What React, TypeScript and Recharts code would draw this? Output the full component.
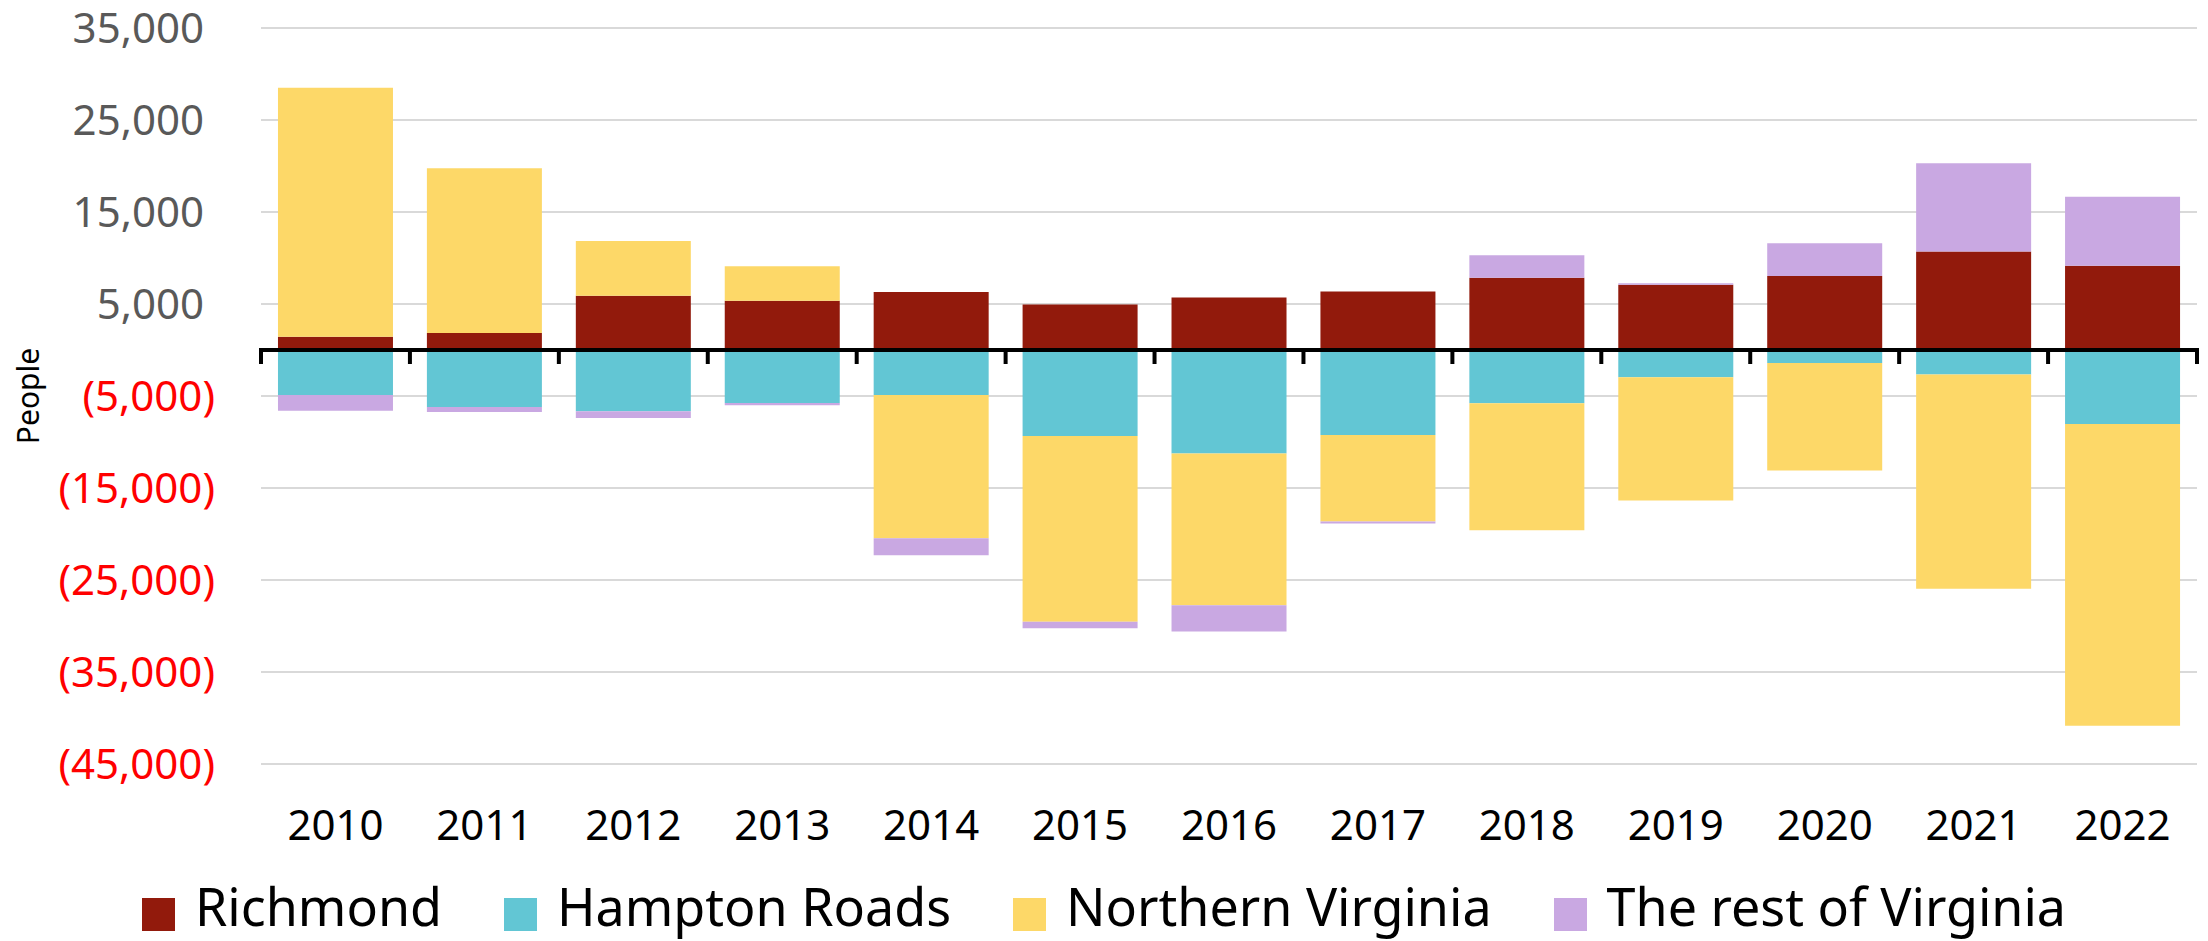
import React from 'react';
import {
  BarChart,
  Bar,
  XAxis,
  YAxis,
  CartesianGrid,
  ReferenceLine,
  Legend,
  Label,
} from 'recharts';

const years = ['2010', '2011', '2012', '2013', '2014', '2015', '2016', '2017', '2018', '2019', '2020', '2021', '2022'];

const richmond = [1450, 1850, 5900, 5350, 6300, 4950, 5700, 6350, 7850, 7100, 8050, 10700, 9150];
const hamptonRoads = [-4900, -6200, -6650, -5750, -4900, -9350, -11250, -9250, -5800, -2950, -1400, -2650, -8050];
const northernVirginia = [27050, 17900, 5950, 3750, -15550, -20200, -16500, -9400, -13800, -13400, -11700, -23300, -32800];
const restOfVirginia = [-1700, -550, -750, -250, -1850, -700, -2850, -200, 2450, 150, 3550, 9600, 7500];

const yTicks = [35000, 25000, 15000, 5000, -5000, -15000, -25000, -35000, -45000];

const series = [
  { key: 'richmond', name: 'Richmond', color: '#921A0C' },
  { key: 'hamptonRoads', name: 'Hampton Roads', color: '#62C6D4' },
  { key: 'northernVirginia', name: 'Northern Virginia', color: '#FDD868' },
  { key: 'restOfVirginia', name: 'The rest of Virginia', color: '#C9A8E2' },
];

const data = years.map((year, i) => ({
  year,
  richmond: richmond[i],
  hamptonRoads: hamptonRoads[i],
  northernVirginia: northernVirginia[i],
  restOfVirginia: restOfVirginia[i],
}));

const FONT = '"Noto Sans", "Open Sans", sans-serif';

// accounting style: negatives in parentheses
const formatPeople = (v: number) => {
  const s = Math.abs(v).toLocaleString('en-US');
  return v < 0 ? `(${s})` : s;
};

function YTick({ x, y, payload }: any) {
  const v = payload.value;
  const neg = v < 0;
  return (
    <text
      x={neg ? x - 46 : x - 57}
      y={y}
      dy="0.35em"
      textAnchor="end"
      fontSize={42}
      fontFamily={FONT}
      fill={neg ? '#FF0000' : '#595959'}
    >
      {formatPeople(v)}
    </text>
  );
}

function XTick({ x, y, payload }: any) {
  return (
    <text x={x} y={y + 76} textAnchor="middle" fontSize={42} fontFamily={FONT} fill="#000">
      {payload.value}
    </text>
  );
}

// zero line with tick marks at category boundaries
function ZeroAxis(props: any) {
  const { x1, x2, y1 } = props;
  const step = (x2 - x1) / years.length;
  return (
    <g>
      <line x1={x1 - 2} x2={x2 + 2} y1={y1} y2={y1} stroke="#000" strokeWidth={4} />
      {Array.from({ length: years.length + 1 }, (_, i) => (
        <line
          key={i}
          x1={x1 + i * step}
          x2={x1 + i * step}
          y1={y1}
          y2={y1 + 14}
          stroke="#000"
          strokeWidth={4}
        />
      ))}
    </g>
  );
}

function PeopleLabel(props: any) {
  const vb = props.viewBox || { x: 0, y: 28, width: 261, height: 736 };
  const cx = vb.x + 39;
  const cy = vb.y + vb.height / 2;
  return (
    <text
      x={cx}
      y={cy}
      transform={`rotate(-90, ${cx}, ${cy})`}
      textAnchor="middle"
      fontSize={30}
      fontFamily={FONT}
      fill="#000"
    >
      People
    </text>
  );
}

// keep the series order (recharts sorts legend items by name otherwise)
function LegendContent() {
  return (
    <div style={{ display: 'flex', justifyContent: 'center', fontFamily: FONT }}>
      {series.map((s, i) => (
        <div
          key={s.key}
          style={{ display: 'flex', alignItems: 'flex-start', marginLeft: i === 0 ? 0 : 62 }}
        >
          <span
            style={{ display: 'block', width: 33, height: 33, background: s.color, marginTop: 18, marginRight: 20 }}
          />
          <span style={{ fontSize: 52, lineHeight: '52px', color: '#000', whiteSpace: 'nowrap' }}>{s.name}</span>
        </div>
      ))}
    </div>
  );
}

export default function App() {
  return (
    <div style={{ width: 2208, height: 941, background: '#fff', fontFamily: FONT }}>
      <style>{'body{margin:0}'}</style>
      <BarChart
        width={2208}
        height={941}
        data={data}
        stackOffset="sign"
        barCategoryGap="11.4%"
        margin={{ top: 28, right: 11, left: 0, bottom: 77 }}
      >
        <CartesianGrid vertical={false} stroke="#D9D9D9" strokeWidth={2} />
        <XAxis
          dataKey="year"
          height={100}
          axisLine={false}
          tickLine={false}
          tickSize={0}
          tickMargin={0}
          interval={0}
          tick={<XTick />}
        />
        <YAxis
          type="number"
          width={261}
          domain={[-45000, 35000]}
          ticks={yTicks}
          interval={0}
          axisLine={false}
          tickLine={false}
          tickSize={0}
          tickMargin={0}
          tick={<YTick />}
        >
          <Label content={PeopleLabel} />
        </YAxis>
        {series.map((s) => (
          <Bar
            key={s.key}
            dataKey={s.key}
            name={s.name}
            stackId="a"
            fill={s.color}
            isAnimationActive={false}
          />
        ))}
        <ReferenceLine y={0} shape={<ZeroAxis />} />
        <Legend
          layout="horizontal"
          verticalAlign="middle"
          align="center"
          wrapperStyle={{ top: 880, left: 0, width: 2208 }}
          content={<LegendContent />}
        />
      </BarChart>
    </div>
  );
}
